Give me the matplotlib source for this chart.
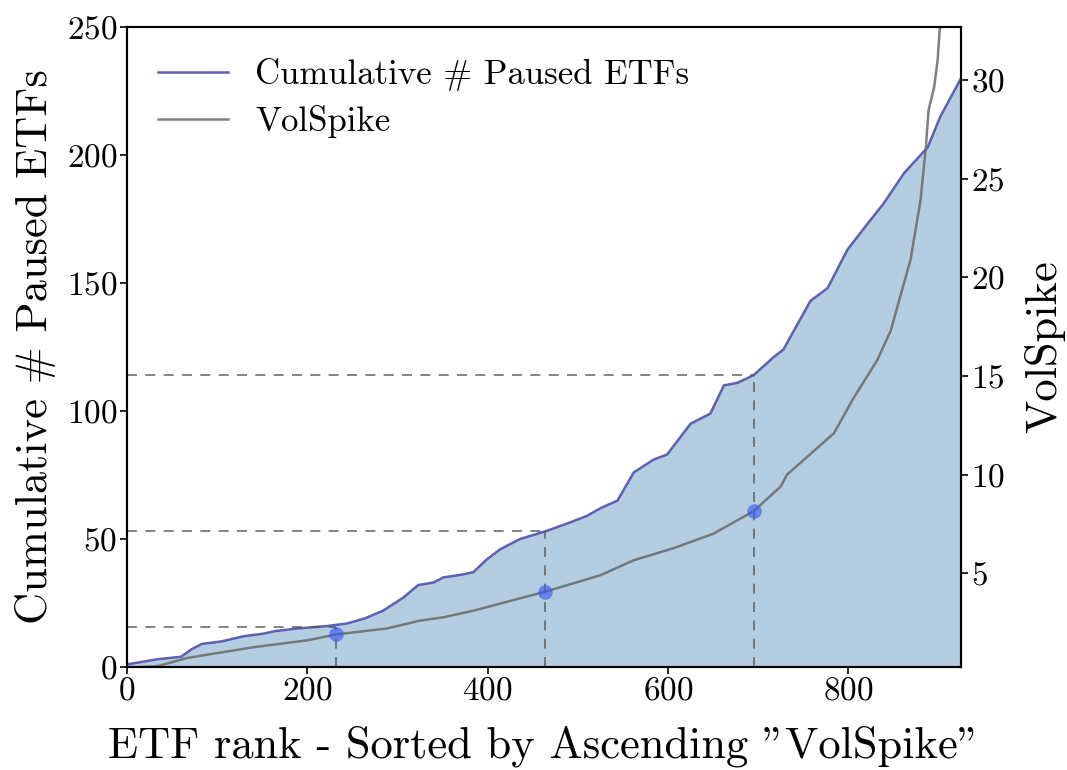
import matplotlib
matplotlib.use("Agg")
import matplotlib.pyplot as plt
import numpy as np

plt.rcParams['font.family'] = ['cmr10', 'DejaVu Serif']
plt.rcParams['axes.formatter.use_mathtext'] = True
plt.rcParams['mathtext.fontset'] = 'cm'

# Cumulative # paused ETFs vs. ETF rank
cum_rank = [0, 33, 60, 72, 83, 105, 129, 151, 164, 188, 222, 244, 264, 284, 306, 323, 340,
            351, 370, 384, 399, 414, 436, 464, 488, 510, 525, 544, 562, 584, 599, 625, 647,
            662, 677, 695, 717, 728, 758, 777, 799, 821, 839, 862, 888, 902, 925]
cum_vals = [1, 3, 4, 7, 9, 10, 12, 13, 14, 15, 16, 17, 19, 22, 27, 32, 33,
            35, 36, 37, 42, 46, 50, 53, 56, 59, 62, 65, 76, 81, 83, 95, 99,
            110, 111, 114, 121, 124, 143, 148, 163, 173, 181, 193, 203, 215, 230]

# VolSpike (right axis) vs. ETF rank
vol_rank = [0, 35, 66, 140, 200, 232, 288, 325, 351, 384, 464, 525, 562, 606, 650, 695,
            725, 732, 784, 806, 832, 847, 869, 880, 886, 889, 895, 899, 905, 925]
vol_vals = [0.2, 0.3, 0.7, 1.25, 1.6, 1.9, 2.2, 2.6, 2.77, 3.1, 4.07, 4.9, 5.66, 6.27, 7.0, 8.15,
            9.4, 10.0, 12.1, 13.9, 15.8, 17.3, 20.9, 23.9, 26.6, 28.5, 29.6, 31.0, 35.0, 60.0]

# Quartile markers
q_rank = [232, 464, 695]
q_cum = [15.6, 53, 114]
q_vol = [1.9, 4.07, 8.15]

x_ticks = [0, 200, 400, 600, 800]
y1_ticks = [0, 50, 100, 150, 200, 250]
y2_ticks = [5, 10, 15, 20, 25, 30]

fig = plt.figure(figsize=(10.67, 7.70), dpi=100)
ax1 = fig.add_axes([0.119, 0.1338, 0.7817, 0.8312])
ax2 = ax1.twinx()

ax1.fill_between(cum_rank, 0, cum_vals, color='steelblue', alpha=0.4, lw=0)
l1, = ax1.plot(cum_rank, cum_vals, color='#3a3aa0', alpha=0.8, lw=1.8,
               label='Cumulative # Paused ETFs')

dash_kw = dict(color='#555555', lw=1.2, ls=(0, (6, 5)), alpha=0.85)
for r, c in zip(q_rank, q_cum):
    ax1.plot([0, r], [c, c], **dash_kw)
    ax1.plot([r, r], [0, c], **dash_kw)

l2, = ax2.plot(vol_rank, vol_vals, color='dimgray', alpha=0.85, lw=1.8, label='VolSpike')
ax2.scatter(q_rank, q_vol, s=110, color='#3b5cf0', alpha=0.65, lw=0, zorder=5)

ax1.set_xlim(0, 925)
ax1.set_ylim(0, 250)
ax2.set_ylim(0.25, 32.7)
ax1.set_xticks(x_ticks)
ax1.set_yticks(y1_ticks)
ax2.set_yticks(y2_ticks)

for ax in (ax1, ax2):
    ax.tick_params(labelsize=24, length=5, width=1.2, direction='out', pad=2)
    for s in ax.spines.values():
        s.set_linewidth(1.5)
        s.set_color('black')

ax1.set_xlabel('ETF rank - Sorted by Ascending "VolSpike"', fontsize=32, labelpad=14)
ax1.set_ylabel('Cumulative # Paused ETFs', fontsize=32, labelpad=8)
ax2.set_ylabel('VolSpike', fontsize=32, labelpad=14)

ax2.legend(handles=[l1, l2], loc='upper left', frameon=False, fontsize=25,
           handlelength=2.0, handletextpad=0.8, borderaxespad=0.5, labelspacing=0.4,
           bbox_to_anchor=(0.0, 1.0))

fig.savefig('out.png', dpi=100)
